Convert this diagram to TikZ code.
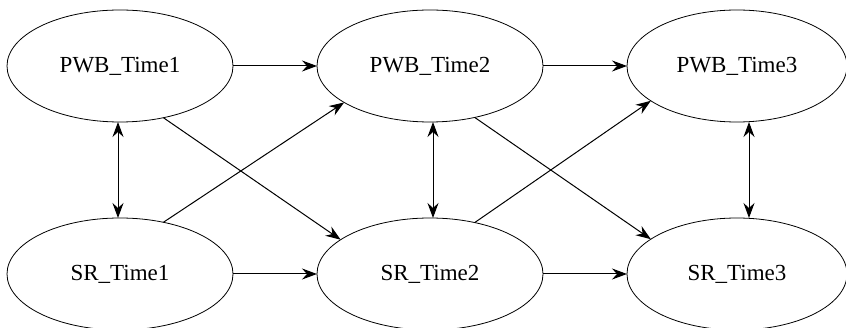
\documentclass[tikz,border=0pt]{standalone}
\usepackage{fontspec}
\setmainfont{Liberation Serif}
\usetikzlibrary{arrows.meta,shapes.geometric}
\begin{document}
\begin{tikzpicture}[x=1pt,y=-1pt,
  ell/.style={draw, ellipse, line width=0.8pt, inner sep=0pt, outer sep=0pt,
    minimum width=226pt, minimum height=112pt, font=\fontsize{23}{27}\selectfont},
  ell3/.style={ell, minimum width=220pt},
  tip/.style={Stealth[length=15pt,width=11pt,inset=5pt]},
  conn/.style={line width=1pt, -{Stealth[length=15pt,width=11pt,inset=5pt]}},
  dbl/.style={line width=1pt, {Stealth[length=15pt,width=11pt,inset=5pt]}-{Stealth[length=15pt,width=11pt,inset=5pt]}}]
\useasboundingbox (0,0) rectangle (846,328);
\node[ell]  (p1) at (120,66)  {PWB\_Time1};
\node[ell]  (p2) at (430,66)  {PWB\_Time2};
\node[ell3] (p3) at (737,66)  {PWB\_Time3};
\node[ell]  (s1) at (120,274) {SR\_Time1};
\node[ell]  (s2) at (430,274) {SR\_Time2};
\node[ell3] (s3) at (737,274) {SR\_Time3};
% horizontal
\draw[conn] (p1.east) -- (p2.west);
\draw[conn] (p2.east) -- (p3.west);
\draw[conn] (s1.east) -- (s2.west);
\draw[conn] (s2.east) -- (s3.west);
% vertical double
\draw[dbl] ([xshift=-2]p1.south) -- ([xshift=-2]s1.north);
\draw[dbl] ([xshift=3]p2.south) -- ([xshift=3]s2.north);
\draw[dbl] ([xshift=12]p3.south) -- ([xshift=12]s3.north);
% diagonals
\draw[conn] (p1.-50) -- (s2.159);
\draw[conn] (s1.50) -- (p2.203);
\draw[conn] (p2.-49) -- (s3.158);
\draw[conn] (s2.49) -- (p3.202);
\end{tikzpicture}
\end{document}
